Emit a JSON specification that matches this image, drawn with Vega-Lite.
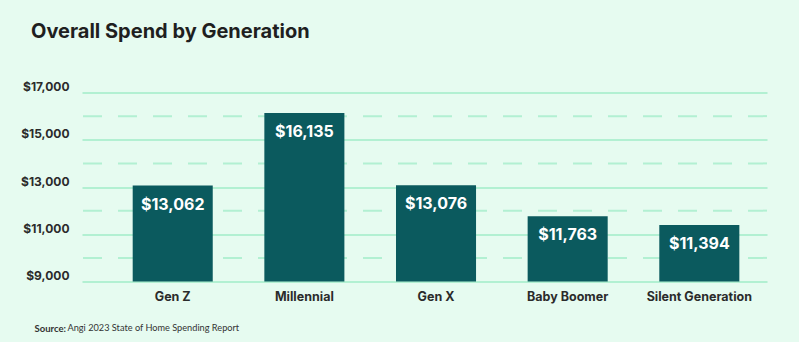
{
  "$schema": "https://vega.github.io/schema/vega-lite/v6.json",
  "autosize": {"type": "none"},
  "width": 685,
  "height": 189,
  "padding": {"left": 82, "top": 92.5, "right": 32, "bottom": 60.5},
  "background": "#e6fbf0",
  "config": {"view": {"stroke": null}},
  "title": {
    "text": "Overall Spend by Generation",
    "anchor": "start",
    "frame": "group",
    "font": "Inter",
    "fontSize": 20,
    "fontWeight": 700,
    "color": "#1f1f1f",
    "dx": -51,
    "offset": 39
  },
  "datasets": {
    "spend": [
      {"generation": "Gen Z", "spend": 13062, "label": "$13,062"},
      {"generation": "Millennial", "spend": 16135, "label": "$16,135"},
      {"generation": "Gen X", "spend": 13076, "label": "$13,076"},
      {"generation": "Baby Boomer", "spend": 11763, "label": "$11,763"},
      {"generation": "Silent Generation", "spend": 11394, "label": "$11,394"}
    ],
    "minor": [
      {"v": 10000}, {"v": 12000}, {"v": 14000}, {"v": 16000}
    ]
  },
  "layer": [
    {
      "data": {"name": "minor"},
      "mark": {"type": "rule", "stroke": "#b2f0d2", "strokeWidth": 2, "strokeDash": [19, 16]},
      "encoding": {
        "y": {"field": "v", "type": "quantitative", "scale": {"domain": [9000, 17000]}}
      }
    },
    {
      "data": {"name": "spend"},
      "mark": {"type": "bar", "color": "#0b5a5e"},
      "encoding": {
        "x": {
          "field": "generation",
          "type": "nominal",
          "sort": null,
          "scale": {"paddingInner": 0.392, "paddingOuter": 0.2976, "align": 0.647},
          "axis": {
            "labelAngle": 0,
            "labelFont": "Inter",
            "labelFontSize": 12.5,
            "labelFontWeight": 700,
            "labelColor": "#2b2b2b",
            "labelPadding": 9,
            "ticks": false,
            "domain": false,
            "title": "Angi 2023 State of Home Spending Report",
            "titleFont": "Lato",
            "titleFontSize": 9.2,
            "titleFontWeight": 400,
            "titleColor": "#333333",
            "titleAnchor": "start",
            "titleAlign": "left",
            "titleBaseline": "alphabetic",
            "titleX": -15,
            "titleY": 49
          }
        },
        "y": {
          "field": "spend",
          "type": "quantitative",
          "scale": {"domain": [9000, 17000], "nice": false, "zero": false, "clamp": true},
          "axis": {
            "values": [9000, 11000, 13000, 15000, 17000],
            "format": "$,.0f",
            "labelFont": "Inter",
            "labelFontSize": 12,
            "labelFontWeight": 700,
            "labelColor": "#2b2b2b",
            "labelPadding": 13,
            "labelBaseline": "alphabetic",
            "labelOffset": -2,
            "ticks": false,
            "domain": false,
            "grid": true,
            "gridColor": "#b2f0d2",
            "gridWidth": 2,
            "gridOpacity": 1,
            "title": "Source:",
            "titleFont": "Lato",
            "titleFontSize": 9.5,
            "titleFontWeight": 700,
            "titleColor": "#333333",
            "titleAngle": 0,
            "titleAnchor": "start",
            "titleAlign": "left",
            "titleBaseline": "alphabetic",
            "titleX": -48,
            "titleY": 238.5
          }
        }
      }
    },
    {
      "data": {"name": "spend"},
      "mark": {"type": "text", "color": "#ffffff", "font": "Inter", "fontSize": 16, "fontWeight": 700, "baseline": "top", "dy": 11},
      "encoding": {
        "x": {"field": "generation", "type": "nominal", "sort": null},
        "y": {"field": "spend", "type": "quantitative"},
        "text": {"field": "label", "type": "nominal"}
      }
    }
  ]
}
